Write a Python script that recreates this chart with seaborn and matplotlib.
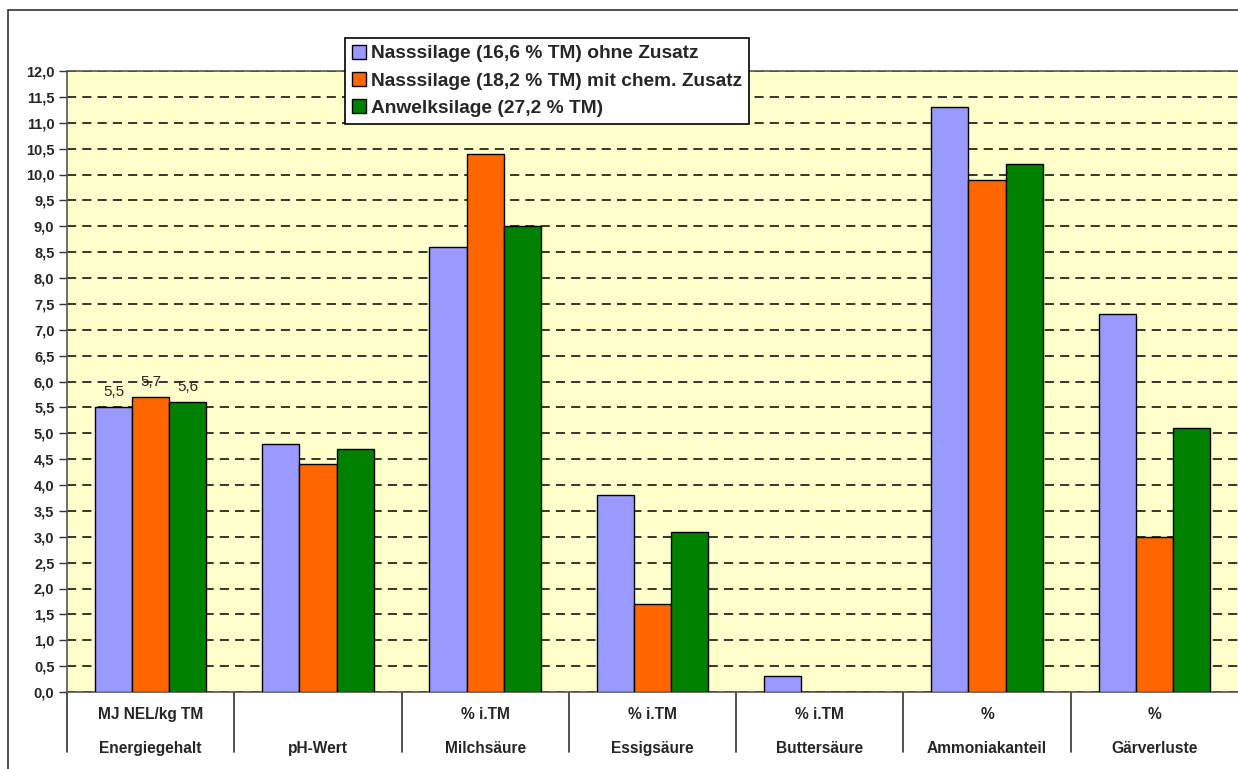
import matplotlib
matplotlib.use("Agg")
import matplotlib.pyplot as plt
from matplotlib.patches import Rectangle
import pandas as pd
import seaborn as sns

# Daten
kategorien = ["Energiegehalt", "pH-Wert", "Milchsäure", "Essigsäure",
              "Buttersäure", "Ammoniakanteil", "Gärverluste"]
einheiten = ["MJ NEL/kg TM", "", "% i.TM", "% i.TM", "% i.TM", "%", "%"]
serien = ["Nasssilage (16,6 % TM) ohne Zusatz",
          "Nasssilage (18,2 % TM) mit chem. Zusatz",
          "Anwelksilage (27,2 % TM)"]
nass_ohne = [5.5, 4.8, 8.6, 3.8, 0.3, 11.3, 7.3]
nass_mit = [5.7, 4.4, 10.4, 1.7, 0.0, 9.9, 3.0]
anwelk = [5.6, 4.7, 9.0, 3.1, 0.0, 10.2, 5.1]
farben = ["#9999FF", "#FF6600", "#008000"]

df = pd.DataFrame({
    "kategorie": kategorien * 3,
    "serie": [serien[0]] * 7 + [serien[1]] * 7 + [serien[2]] * 7,
    "wert": nass_ohne + nass_mit + anwelk,
})

sns.set_style("white")
plt.rcParams["font.family"] = ["Liberation Sans", "DejaVu Sans"]

W, H = 1238, 769
fig = plt.figure(figsize=(W / 100, H / 100), dpi=100)
ax = fig.add_axes([67 / W, (H - 692) / H, (W - 67) / W, (692 - 71) / H])
ax.set_facecolor("#FFFFCC")

sns.barplot(data=df, x="kategorie", y="wert", hue="serie", order=kategorien,
            hue_order=serien, palette=farben, width=0.667, gap=0,
            edgecolor="black", linewidth=1, saturation=1, ax=ax, zorder=3)

# Beschriftung nur fuer die erste Gruppe
for cont in ax.containers:
    labels = [f"{b.get_height():.1f}".replace(".", ",") if i == 0 else ""
              for i, b in enumerate(cont)]
    ax.bar_label(cont, labels=labels, padding=6, fontsize=11, zorder=4)

ax.set_xlim(-0.5, 6.5)
ax.set_ylim(0, 12)
ax.set_yticks([i * 0.5 for i in range(25)])
ax.set_yticklabels([f"{i * 0.5:.1f}".replace(".", ",") for i in range(25)],
                   fontsize=10.5, fontweight="bold")
ax.tick_params(axis="y", direction="out", length=6, width=1, color="#333333", pad=3, left=True)
ax.yaxis.grid(True, linestyle=(0, (6, 4)), color="black", linewidth=1.1, zorder=1)
ax.set_axisbelow(True)
ax.set_xlabel("")
ax.set_ylabel("")
ax.set_xticks([])

for side in ["left", "top", "bottom"]:
    ax.spines[side].set_color("#555555")
    ax.spines[side].set_linewidth(1.2)
ax.spines["right"].set_visible(False)

# Kategorienbeschriftung unter der Achse
tr = ax.get_xaxis_transform()
for i, (k, e) in enumerate(zip(kategorien, einheiten)):
    ax.text(i, -0.037, e, transform=tr, ha="center", va="center",
            fontsize=11.2, fontweight="bold")
    ax.text(i, -0.091, k, transform=tr, ha="center", va="center",
            fontsize=11.2, fontweight="bold")
for x in [-0.5, 0.5, 1.5, 2.5, 3.5, 4.5, 5.5]:
    ax.plot([x, x], [0, -0.097], transform=tr, color="#333333",
            linewidth=1.2, clip_on=False)

# Legende
leg = ax.legend(loc="upper left", bbox_to_anchor=(345 / W, 1 - 38 / H),
                bbox_transform=fig.transFigure, frameon=True, fancybox=False,
                edgecolor="black", framealpha=1, fontsize=13.8,
                handlelength=0.75, handleheight=0.75, handletextpad=0.25,
                borderpad=0.35, labelspacing=0.5, borderaxespad=0)
for t in leg.get_texts():
    t.set_fontweight("bold")
leg.get_frame().set_linewidth(1.2)

# Aeusserer Rahmen
fig.patches.append(Rectangle((8 / W, -0.1), 1.2, (H - 10) / H + 0.1, fill=False,
                             edgecolor="#333333", linewidth=1.2,
                             transform=fig.transFigure, figure=fig))

fig.savefig("out.png", dpi=100)
